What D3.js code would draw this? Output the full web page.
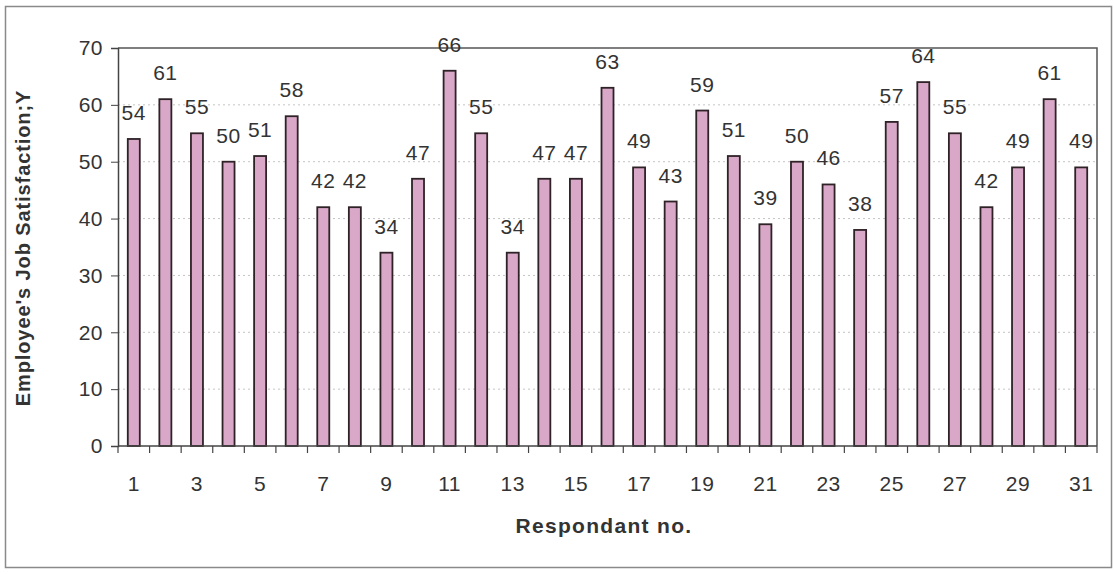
<!DOCTYPE html>
<html>
<head>
<meta charset="utf-8">
<script src="https://cdn.jsdelivr.net/npm/d3@7/dist/d3.min.js"></script>
<style>
  html, body { margin: 0; padding: 0; background: #fff; }
  svg { display: block; font-family: "Liberation Sans", Arial, sans-serif; }
</style>
</head>
<body>
<svg id="chart" width="1114" height="574"></svg>
<script>
// Respondent numbers and job-satisfaction scores
const respondents = d3.range(1, 32);
const satisfaction = [54, 61, 55, 50, 51, 58, 42, 42, 34, 47, 66, 55, 34, 47, 47, 63,
                      49, 43, 59, 51, 39, 50, 46, 38, 57, 64, 55, 42, 49, 61, 49];
const yTicks = [0, 10, 20, 30, 40, 50, 60, 70];
const xTickLabels = respondents.filter(d => d % 2 === 1);

const svg = d3.select("#chart");
const plot = { left: 118, right: 1097, top: 48, bottom: 446 };
const textColor = "#333";

// Outer chart frame
svg.append("rect")
  .attr("x", 5.5).attr("y", 6.5)
  .attr("width", 1106).attr("height", 561)
  .attr("fill", "#fff").attr("stroke", "#8a8a8a").attr("stroke-width", 1.5);

const x = d3.scaleBand().domain(respondents).range([plot.left, plot.right]);
const y = d3.scaleLinear().domain([0, 70]).range([plot.bottom, plot.top]);

// Dotted gridlines
svg.append("g")
  .selectAll("line")
  .data(yTicks.filter(t => t > 0 && t < 70))
  .join("line")
  .attr("x1", plot.left).attr("x2", plot.right)
  .attr("y1", d => y(d)).attr("y2", d => y(d))
  .attr("stroke", "#c4c4c4").attr("stroke-width", 1)
  .attr("stroke-dasharray", "2,3");

// Plot-area border (top and right)
svg.append("path")
  .attr("d", `M${plot.left},${plot.top}H${plot.right}V${plot.bottom}`)
  .attr("fill", "none").attr("stroke", "#555").attr("stroke-width", 1.5);

// Bars
const barW = 12;
svg.append("g")
  .selectAll("rect")
  .data(satisfaction)
  .join("rect")
  .attr("x", (d, i) => x(respondents[i]) + x.bandwidth() / 2 - barW / 2)
  .attr("y", d => y(d))
  .attr("width", barW)
  .attr("height", d => y(0) - y(d))
  .attr("fill", "#d9a8c8")
  .attr("stroke", "#2e2226")
  .attr("stroke-width", 1.8);

// Value labels above each bar
svg.append("g")
  .selectAll("text")
  .data(satisfaction)
  .join("text")
  .attr("x", (d, i) => x(respondents[i]) + x.bandwidth() / 2)
  .attr("y", d => y(d) - 19)
  .attr("text-anchor", "middle")
  .attr("font-size", 21)
  .attr("letter-spacing", 0.5)
  .attr("fill", textColor)
  .text(d => d);

// Y axis
const yAxis = svg.append("g")
  .attr("transform", `translate(${plot.left},0)`)
  .call(d3.axisLeft(y).tickValues(yTicks).tickSize(7).tickPadding(8).tickFormat(d3.format("d")));
yAxis.select(".domain").attr("stroke", "#444").attr("stroke-width", 1.5);
yAxis.selectAll(".tick line").attr("stroke", "#444");
yAxis.selectAll(".tick text")
  .attr("font-size", 21).attr("letter-spacing", 0.5).attr("fill", textColor)
  .attr("font-family", "Liberation Sans, Arial, sans-serif");

// X axis: baseline, boundary tick marks, labels on odd respondents
const xg = svg.append("g");
xg.append("line")
  .attr("x1", plot.left).attr("x2", plot.right)
  .attr("y1", plot.bottom).attr("y2", plot.bottom)
  .attr("stroke", "#444").attr("stroke-width", 1.5);
xg.selectAll("line.tk")
  .data(respondents.concat([32]))
  .join("line")
  .attr("class", "tk")
  .attr("x1", d => d <= 31 ? x(d) : plot.right)
  .attr("x2", d => d <= 31 ? x(d) : plot.right)
  .attr("y1", plot.bottom).attr("y2", plot.bottom + 7)
  .attr("stroke", "#444").attr("stroke-width", 1.2);
xg.selectAll("text")
  .data(xTickLabels)
  .join("text")
  .attr("x", d => x(d) + x.bandwidth() / 2)
  .attr("y", 491)
  .attr("text-anchor", "middle")
  .attr("font-size", 21)
  .attr("letter-spacing", 0.5)
  .attr("fill", textColor)
  .text(d => d);

// Axis titles
svg.append("text")
  .attr("x", 604).attr("y", 533)
  .attr("text-anchor", "middle")
  .attr("font-size", 21).attr("font-weight", "bold").attr("letter-spacing", 1.3)
  .attr("fill", textColor)
  .text("Respondant no.");

svg.append("text")
  .attr("transform", "translate(30,248) rotate(-90)")
  .attr("text-anchor", "middle")
  .attr("font-size", 20).attr("font-weight", "bold").attr("letter-spacing", 0.9)
  .attr("fill", textColor)
  .text("Employee's Job Satisfaction;Y");
</script>
</body>
</html>
